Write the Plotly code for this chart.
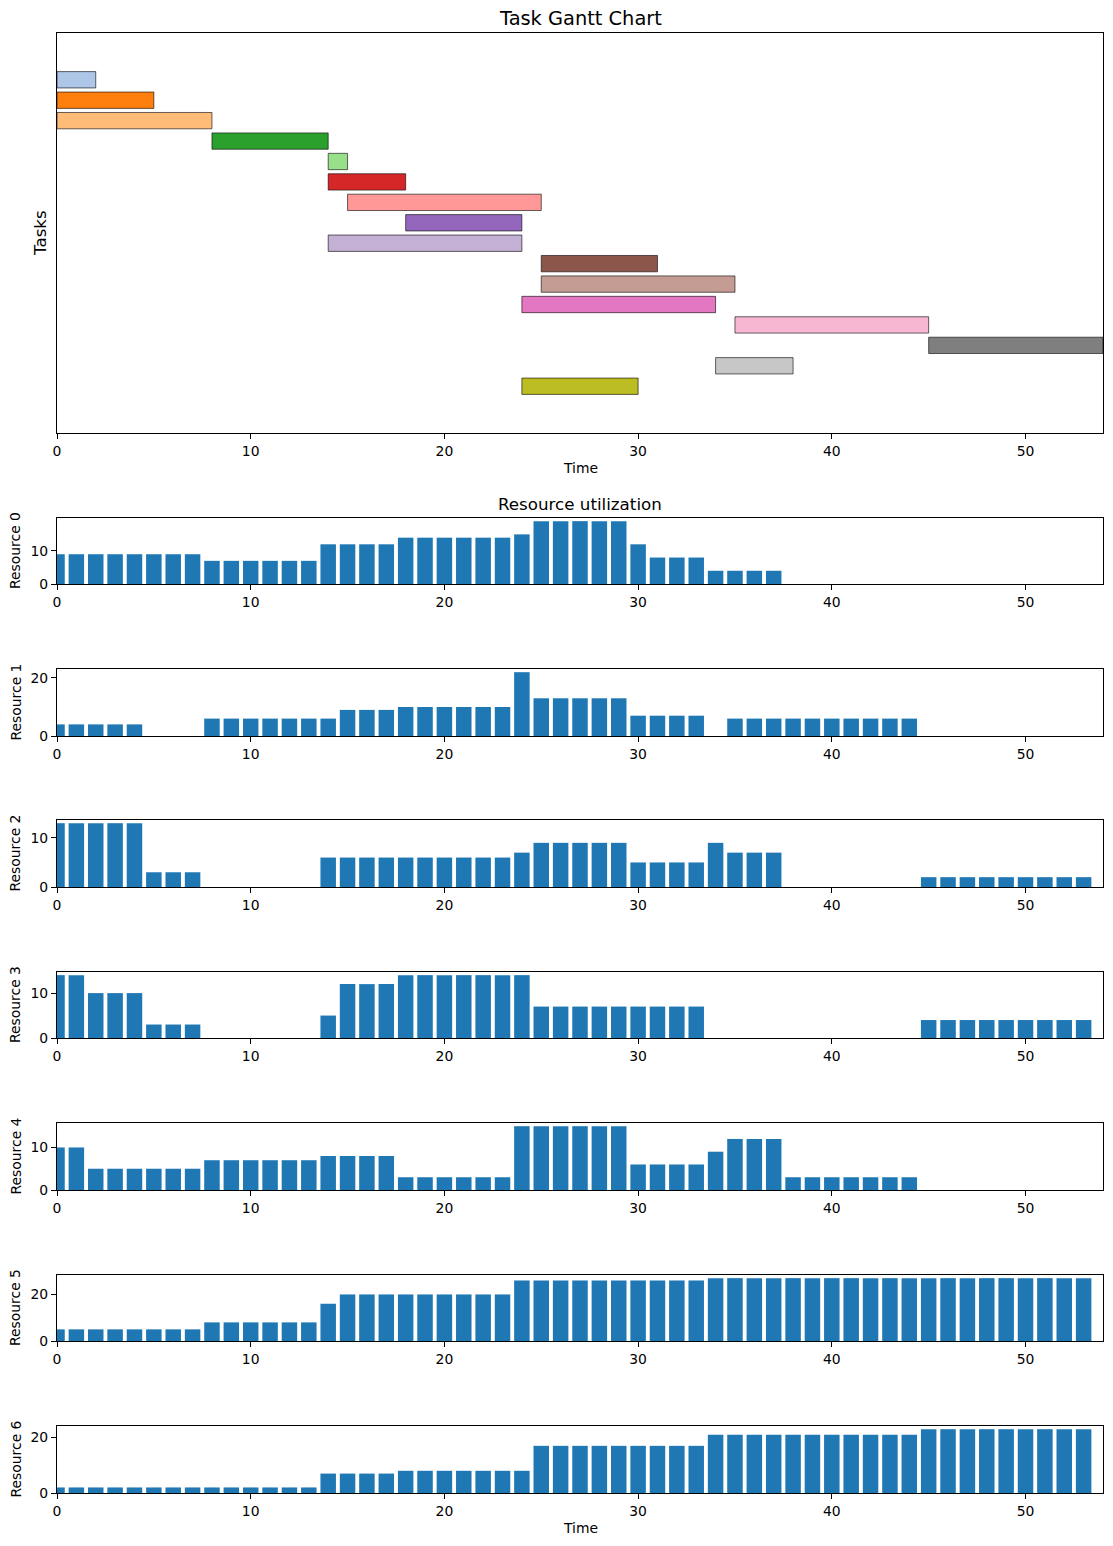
import plotly.graph_objects as go

# ---------------- data ----------------
task_rows = list(range(1, 17))
task_start = [0, 0, 0, 8, 14, 14, 15, 18, 14, 25, 25, 24, 35, 45, 34, 24]
task_end = [2, 5, 8, 14, 15, 18, 25, 24, 24, 31, 35, 34, 45, 54, 38, 30]
task_colors = ["#aec7e8", "#ff7f0e", "#ffbb78", "#2ca02c", "#98df8a", "#d62728",
               "#ff9896", "#9467bd", "#c5b0d5", "#8c564b", "#c49c94", "#e377c2",
               "#f7b6d2", "#7f7f7f", "#c7c7c7", "#bcbd22"]
n_task_rows = 18  # includes dummy start/end tasks (rows 0 and 17)
makespan = 54

time_steps = list(range(54))
res0 = [9]*8 + [7]*6 + [12]*4 + [14]*6 + [15] + [19]*5 + [12] + [8]*3 + [4]*4 + [0]*16
res1 = [4]*5 + [0]*3 + [6]*7 + [9]*3 + [10]*6 + [22] + [13]*5 + [7]*4 + [0] + [6]*10 + [0]*9
res2 = [13]*5 + [3]*3 + [0]*6 + [6]*10 + [7] + [9]*5 + [5]*4 + [9] + [7]*3 + [0]*7 + [2]*9
res3 = [14]*2 + [10]*3 + [3]*3 + [0]*6 + [5] + [12]*3 + [14]*7 + [7]*9 + [0]*11 + [4]*9
res4 = [10]*2 + [5]*6 + [7]*6 + [8]*4 + [3]*6 + [15]*6 + [6]*4 + [9] + [12]*3 + [3]*7 + [0]*9
res5 = [5]*8 + [8]*6 + [16] + [20]*9 + [26]*10 + [27]*20
res6 = [2]*14 + [7]*4 + [8]*7 + [17]*9 + [21]*11 + [23]*9
resources = [res0, res1, res2, res3, res4, res5, res6]
res_names = ["Resource %d" % i for i in range(7)]
res_tickvals = [[0, 10], [0, 20], [0, 10], [0, 10], [0, 10], [0, 20], [0, 20]]
x_ticks = [0, 10, 20, 30, 40, 50]

# ---------------- layout geometry (pixels) ----------------
W, H = 1113, 1546
L, R, T, B = 57, 10, 33, 53
plot_h = H - T - B
bottom_px = H - B


def yfrac(py):
    return (bottom_px - py) / plot_h


def xfrac(px):
    return (px - L) / (W - L - R)


gantt_dom = [yfrac(433), yfrac(33)]
res_px = [(518, 584), (669, 736), (820, 887), (972, 1038), (1123, 1190), (1275, 1341), (1426, 1493)]

FONT = "DejaVu Sans"
TICK = 13.9
fig = go.Figure()

# Gantt
fig.add_trace(go.Bar(
    y=task_rows,
    x=[e - s for s, e in zip(task_start, task_end)],
    base=task_start,
    orientation="h",
    width=0.8,
    marker=dict(color=task_colors, line=dict(color="black", width=0.6)),
    xaxis="x", yaxis="y",
    showlegend=False,
))

axis_common = dict(showline=True, mirror=True, linecolor="black", linewidth=1.1,
                   ticks="outside", ticklen=5, tickwidth=1.1, tickcolor="black",
                   showgrid=False, zeroline=False,
                   tickfont=dict(family=FONT, size=TICK, color="black"))

layout = dict(
    width=W, height=H,
    margin=dict(l=L, r=R, t=T, b=B),
    paper_bgcolor="white", plot_bgcolor="white",
    font=dict(family=FONT, color="black"),
    showlegend=False,
    xaxis=dict(domain=[0, 1], range=[0, makespan], tickvals=x_ticks, anchor="y", **axis_common),
    yaxis=dict(domain=gantt_dom, range=[n_task_rows - 1 + 0.4 + 0.89, -0.4 - 0.89],
               anchor="x", showline=True, mirror=True, linecolor="black", linewidth=1.1,
               showticklabels=False, ticks="", showgrid=False, zeroline=False),
)

annotations = [
    dict(text="Task Gantt Chart", x=0.5, y=yfrac(18), xref="paper", yref="paper",
         showarrow=False, font=dict(family=FONT, size=19.4, color="black"),
         xanchor="center", yanchor="middle"),
    dict(text="Tasks", x=xfrac(40), y=yfrac(233), xref="paper", yref="paper",
         showarrow=False, textangle=-90, font=dict(family=FONT, size=16.7, color="black"),
         xanchor="center", yanchor="middle"),
    dict(text="Time", x=0.5, y=yfrac(468), xref="paper", yref="paper",
         showarrow=False, font=dict(family=FONT, size=TICK, color="black"),
         xanchor="center", yanchor="middle"),
    dict(text="Resource utilization", x=0.5, y=yfrac(504), xref="paper", yref="paper",
         showarrow=False, font=dict(family=FONT, size=16.7, color="black"),
         xanchor="center", yanchor="middle"),
    dict(text="Time", x=0.5, y=yfrac(1528), xref="paper", yref="paper",
         showarrow=False, font=dict(family=FONT, size=TICK, color="black"),
         xanchor="center", yanchor="middle"),
]

for i, (vals, name) in enumerate(zip(resources, res_names)):
    k = i + 2
    xa, ya = "x%d" % k, "y%d" % k
    fig.add_trace(go.Bar(x=time_steps, y=vals, width=0.8,
                         marker=dict(color="#1f77b4", line=dict(width=0)),
                         xaxis=xa, yaxis=ya, showlegend=False))
    top_px, bot_px = res_px[i]
    layout["xaxis%d" % k] = dict(domain=[0, 1], range=[0, makespan], tickvals=x_ticks,
                                 anchor=ya, **axis_common)
    layout["yaxis%d" % k] = dict(domain=[yfrac(bot_px), yfrac(top_px)],
                                 range=[0, max(vals) * 1.05], tickvals=res_tickvals[i],
                                 anchor=xa, **axis_common)
    annotations.append(dict(text=name, x=xfrac(15), y=yfrac((top_px + bot_px) / 2),
                            xref="paper", yref="paper", showarrow=False, textangle=-90,
                            font=dict(family=FONT, size=TICK, color="black"),
                            xanchor="center", yanchor="middle"))

layout["annotations"] = annotations
fig.update_layout(**layout)
fig.write_html("out.html")
